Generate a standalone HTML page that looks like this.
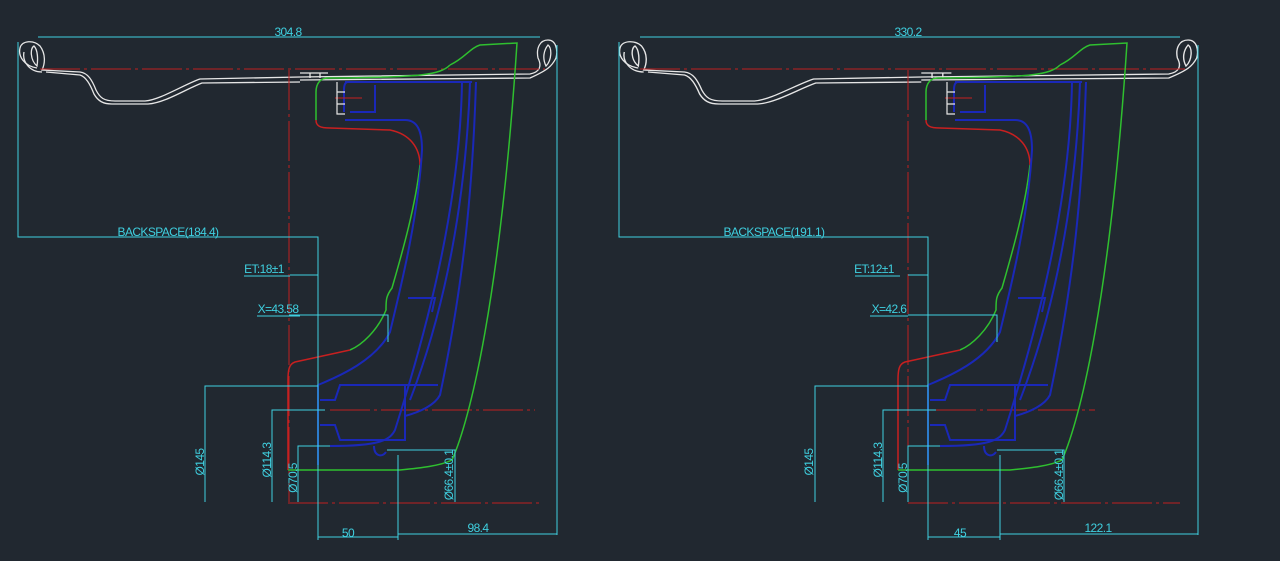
<!DOCTYPE html>
<html><head><meta charset="utf-8"><style>
html,body{margin:0;padding:0;background:#212830;}
svg{display:block}
text{font-family:"Liberation Sans Narrow","Liberation Sans",sans-serif;fill:#3fd0e0;font-size:12px;letter-spacing:-0.6px}
</style></head><body>
<svg width="1280" height="561" viewBox="0 0 1280 561" xmlns="http://www.w3.org/2000/svg">
<rect width="1280" height="561" fill="#212830"/>
<defs>
<g id="rim" fill="none" stroke="#e6e6e6" stroke-width="1.3">
  <path d="M37,68 C24,66 18,56 20,48 C22,40 34,40 40,46 C46,54 45,64 42,70 L80,72 C88,73 92,80 96,90 C100,98 104,101 115,101 L145,101 C160,100 185,84 200,79 L300,77 L530,74 C540,72 542,66 538,58 C536,48 540,40 548,40 C556,40 558,50 556,58 C552,66 548,70 530,78 L300,80"/>
  <path d="M42,72 C30,72 22,62 24,52 M37,66 C30,60 30,48 34,46 C38,50 38,60 37,66 Z M548,45 C552,48 552,60 546,66 C542,58 544,50 548,45 Z"/>
  <path d="M46,72 L80,75 C86,77 90,84 94,94 C98,101 103,104 112,104 L148,104 C165,103 188,88 202,83 L300,82"/>
  <path d="M300,73 L328,73 M310,73 L310,78 M320,73 L320,78"/>
</g>
<g id="face" fill="none" stroke-width="1.5">
  <path stroke="#2fc02f" d="M450,65 C440,75 420,77 340,78 L328,78 C320,78 316,84 316,92 L316,120"/>
  <path stroke="#c82020" d="M316,120 C316,126 320,128 330,128 L390,130 C410,134 420,148 420,165"/>
  <path stroke="#2fc02f" d="M420,165 C415,210 400,260 392,288 C386,296 386,300 386,310 C378,330 362,345 350,350"/>
  <path stroke="#c82020" d="M350,350 L295,362 C289,364 288,370 288,380 L288,470"/>
  <path stroke="#2fc02f" d="M288,470 L400,470 C420,468 440,466 452,460 C470,420 500,300 517,43 L480,45 C470,48 465,58 450,65"/>
  <g stroke="#1a28b8" stroke-width="2">
  <path d="M345,82 L472,82 M348,82 C345,82 344,86 344,90 L344,112 M350,112 L375,112 L375,85 M345,120 L405,120 C418,120 422,132 422,150 C418,220 400,290 390,332 C376,360 340,376 318,385 L318,465"/>
  <path d="M462,82 C460,200 430,320 395,430 C390,440 380,446 330,446 M470,82 C466,200 445,310 410,400 M476,82 C472,210 460,300 440,395 C435,405 420,412 405,416"/>
  <path d="M408,298 L435,298 L432,312 M320,400 L335,400 L340,385 L405,385 L405,440 L340,440 L335,425 L320,425 M405,385 L438,385 M374,446 C374,456 382,458 386,452"/>
  </g>
  <path stroke="#c82020" stroke-width="1" d="M335,98 L362,98"/>
  <path stroke="#e6e6e6" stroke-width="1.2" d="M337,82 L337,114 L345,114 M337,92 L345,92 M337,104 L345,104"/>
</g>
</defs>

<!-- LEFT -->
<use href="#rim"/>
<g stroke="#c02020" stroke-width="1" stroke-dasharray="40 4 3 4" fill="none">
<path d="M40,69 L545,69 M289,70 L289,502 M330,410 L535,410 M288,503 L540,503"/>
</g>
<use href="#face"/>
<g stroke="#3fd0e0" stroke-width="1" fill="none">
<path d="M38,37 L540,37 M18,42 L18,237 L318,237 L318,540 M557,45 L557,535 M290,275 L318,275 M289,315 L388,315 L388,342 M205,502 L205,386 L318,386 M272,502 L272,410 L325,410 M298,502 L298,446 L330,446 M387,450 L455,450 L455,502 M318,537 L398,537 M398,455 L398,540 M398,534 L557,534"/>
<path d="M244,276 L290,276 M257,316 L300,316"/>
</g>
<text x="288" y="36" text-anchor="middle">304.8</text>
<text x="168" y="236" text-anchor="middle">BACKSPACE(184.4)</text>
<text x="264" y="273" text-anchor="middle">ET:18±1</text>
<text x="278" y="313" text-anchor="middle">X=43.58</text>
<text x="348" y="537" text-anchor="middle">50</text>
<text x="478" y="532" text-anchor="middle">98.4</text>
<text transform="translate(204,462) rotate(-90)" text-anchor="middle">Ø145</text>
<text transform="translate(271,460) rotate(-90)" text-anchor="middle">Ø114.3</text>
<text transform="translate(297,478) rotate(-90)" text-anchor="middle">Ø70.5</text>
<text transform="translate(453,475) rotate(-90)" text-anchor="middle">Ø66.4±0.1</text>

<!-- RIGHT -->
<use href="#rim" transform="translate(620,0) scale(1.076,1) translate(-20,0)"/>
<g stroke="#c02020" stroke-width="1" stroke-dasharray="40 4 3 4" fill="none">
<path d="M640,69 L1185,69 M908,70 L908,502 M936,410 L1095,410 M908,503 L1180,503"/>
</g>
<use href="#face" transform="translate(610,0)"/>
<g stroke="#3fd0e0" stroke-width="1" fill="none">
<path d="M640,37 L1180,37 M619,42 L619,237 L928,237 L928,540 M1198,45 L1198,535 M908,275 L928,275 M908,315 L997,315 L997,342 M815,502 L815,386 L928,386 M883,502 L883,410 L936,410 M908,502 L908,446 L940,446 M997,450 L1064,450 L1064,502 M928,537 L1000,537 M1000,455 L1000,540 M1000,534 L1198,534"/>
<path d="M855,276 L900,276 M870,316 L908,316"/>
</g>
<text x="908" y="36" text-anchor="middle">330.2</text>
<text x="774" y="236" text-anchor="middle">BACKSPACE(191.1)</text>
<text x="874" y="273" text-anchor="middle">ET:12±1</text>
<text x="889" y="313" text-anchor="middle">X=42.6</text>
<text x="960" y="537" text-anchor="middle">45</text>
<text x="1098" y="532" text-anchor="middle">122.1</text>
<text transform="translate(813,462) rotate(-90)" text-anchor="middle">Ø145</text>
<text transform="translate(882,460) rotate(-90)" text-anchor="middle">Ø114.3</text>
<text transform="translate(907,478) rotate(-90)" text-anchor="middle">Ø70.5</text>
<text transform="translate(1063,475) rotate(-90)" text-anchor="middle">Ø66.4±0.1</text>
</svg>
</body></html>
